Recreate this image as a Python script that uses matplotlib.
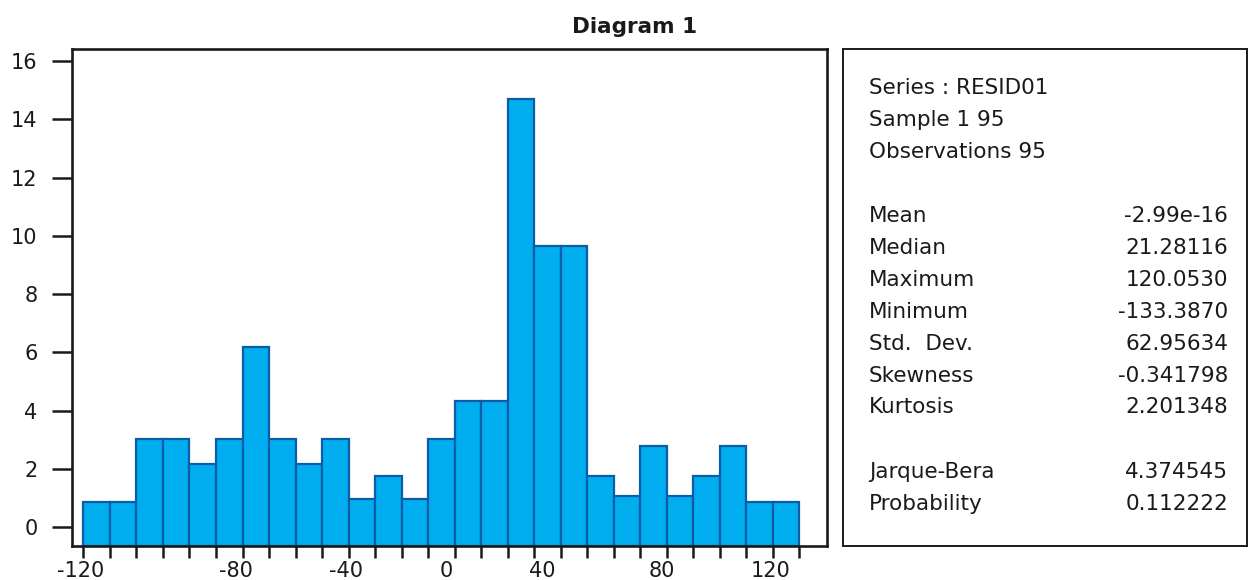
import matplotlib
matplotlib.use("Agg")
import matplotlib.pyplot as plt
import numpy as np

# ---- data ----
bin_edges = np.arange(-140, 131, 10)          # 27 bins of width 10
bar_tops = [0.86, 0.86, 3.04, 3.04, 2.15, 3.04, 6.17, 3.04, 2.15, 3.04,
            0.97, 1.74, 0.98, 3.04, 4.32, 4.32, 14.71, 9.65, 9.65, 1.74,
            1.08, 2.79, 1.08, 1.74, 2.79, 0.85, 0.85]
xtick_labels = ["-120", "-80", "-40", "0", "40", "80", "120"]
yticks = [0, 2, 4, 6, 8, 10, 12, 14, 16]
title = "Diagram 1"
head_lines = ["Series : RESID01", "Sample 1 95", "Observations 95"]
stat_names = ["Mean", "Median", "Maximum", "Minimum", "Std.  Dev.",
              "Skewness", "Kurtosis"]
stat_values = ["-2.99e-16", "21.28116", "120.0530", "-133.3870",
               "62.95634", "-0.341798", "2.201348"]
test_names = ["Jarque-Bera", "Probability"]
test_values = ["4.374545", "0.112222"]

# label placement along the axis (as drawn in the reference)
xtick_label_pos = [-141.2, -82.4, -41.0, -3.0, 33.2, 78.1, 119.3]

# ---- figure ----
W, H = 1249, 580
fig = plt.figure(figsize=(W / 100, H / 100), dpi=100)
plt.rcParams['font.family'] = ['DejaVu Sans']
INK = '#1a1a1a'

def px_rect(x0, y0, x1, y1):
    return [x0 / W, 1 - y1 / H, (x1 - x0) / W, (y1 - y0) / H]

ax = fig.add_axes(px_rect(72, 49, 827, 546))
ymin, ymax = -0.65, 16.42
ax.set_ylim(ymin, ymax)
ax.set_xlim(-144.3, 140.4)

lefts = bin_edges[:-1]
heights = np.array(bar_tops) - ymin
ax.bar(lefts, heights, width=10, bottom=ymin, align='edge',
       color='#00AEEF', edgecolor='#0B5DAA', linewidth=1.6, zorder=2)

ax.set_xticks(bin_edges, minor=True)
ax.set_xticks(xtick_label_pos, labels=xtick_labels)
ax.set_yticks(yticks, labels=[str(v) for v in yticks])

ax.tick_params(axis='x', which='minor', direction='out', length=8.5,
               width=1.8, color=INK)
ax.tick_params(axis='x', which='major', length=0, pad=10.5,
               labelsize=15, labelcolor=INK)
ax.tick_params(axis='y', direction='out', length=14.4, width=1.8,
               pad=10.5, labelsize=15, colors=INK)
for s in ax.spines.values():
    s.set_linewidth(1.9)
    s.set_color(INK)

fig.text(635 / W, 1 - 27 / H, title, ha='center', va='center',
         fontsize=15.5, fontweight='bold', color=INK)

# ---- statistics panel ----
sp = fig.add_axes(px_rect(843, 49, 1247, 546))
sp.set_xlim(843, 1247)
sp.set_ylim(546, 49)
sp.set_xticks([])
sp.set_yticks([])
for s in sp.spines.values():
    s.set_linewidth(1.4)
    s.set_color(INK)

fs = 15.5
x_left = 869
x_right = 1228
ys_head = [88, 120, 152]
for y, t in zip(ys_head, head_lines):
    sp.text(x_left, y, t, ha='left', va='center', fontsize=fs, color=INK)
ys_stats = [216, 247.5, 279.5, 311.5, 343.5, 375.5, 407]
for y, n, v in zip(ys_stats, stat_names, stat_values):
    sp.text(x_left, y, n, ha='left', va='center', fontsize=fs, color=INK)
    sp.text(x_right, y, v, ha='right', va='center', fontsize=fs, color=INK)
ys_test = [472, 504]
for y, n, v in zip(ys_test, test_names, test_values):
    sp.text(x_left, y, n, ha='left', va='center', fontsize=fs, color=INK)
    sp.text(x_right, y, v, ha='right', va='center', fontsize=fs, color=INK)

fig.savefig("out.png", dpi=100)
